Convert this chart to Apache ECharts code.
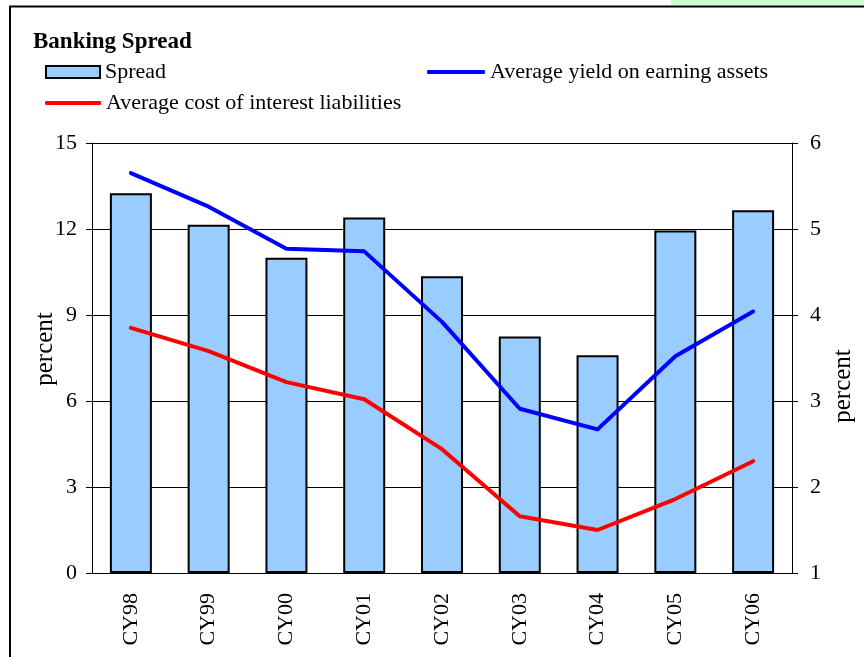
<!DOCTYPE html>
<html>
<head>
<meta charset="utf-8">
<script src="https://cdn.jsdelivr.net/npm/echarts@6/dist/echarts.min.js"></script>
<style>
  html, body { margin: 0; padding: 0; background: #fff; }
  #chart { width: 864px; height: 657px; }
</style>
</head>
<body>
<div id="chart"></div>
<script>
// 数据
const years = ['CY98', 'CY99', 'CY00', 'CY01', 'CY02', 'CY03', 'CY04', 'CY05', 'CY06'];
const spread = [13.25, 12.15, 11.0, 12.4, 10.35, 8.25, 7.6, 11.95, 12.65];
const yieldAssets = [5.65, 5.26, 4.77, 4.74, 3.92, 2.91, 2.67, 3.52, 4.04];
const costLiabilities = [3.85, 3.58, 3.22, 3.02, 2.44, 1.66, 1.50, 1.86, 2.30];
const leftTicks = { min: 0, max: 15, interval: 3 };
const rightTicks = { min: 1, max: 6, interval: 1 };

const serif = '"Liberation Serif", "Times New Roman", serif';

const chart = echarts.init(document.getElementById('chart'));

const axisCommon = {
    axisLine: { show: true, lineStyle: { color: '#000', width: 1 } },
    axisTick: { show: true, length: 6, lineStyle: { color: '#000' } },
    axisLabel: { color: '#000', fontSize: 22, fontFamily: serif }
};

const legendText = { fontFamily: serif, fontSize: 22, color: '#000' };

const option = {
    animation: false,
    backgroundColor: '#fff',
    title: {
        text: 'Banking Spread',
        left: 28,
        top: 26,
        textStyle: { fontFamily: serif, fontSize: 23, fontWeight: 'bold', color: '#000' }
    },
    legend: [
        {
            left: 40, top: 56,
            itemWidth: 54, itemHeight: 12, itemGap: 0,
            textStyle: legendText,
            data: [{ name: 'Spread', icon: 'rect' }]
        },
        {
            left: 422, top: 56,
            itemWidth: 58, itemHeight: 4, itemGap: 0,
            textStyle: legendText,
            data: [{ name: 'Average yield on earning assets', icon: 'roundRect' }]
        },
        {
            left: 40, top: 87,
            itemWidth: 56, itemHeight: 4, itemGap: 0,
            textStyle: legendText,
            data: [{ name: 'Average cost of interest liabilities', icon: 'roundRect' }]
        }
    ],
    grid: { left: 92, right: 72, top: 143, bottom: 84 },
    xAxis: {
        type: 'category',
        data: years,
        axisLine: { show: true, lineStyle: { color: '#000', width: 1 } },
        axisTick: { show: false },
        axisLabel: { rotate: 90, margin: 20, color: '#000', fontSize: 22, fontFamily: serif }
    },
    yAxis: [
        Object.assign({
            type: 'value',
            min: leftTicks.min, max: leftTicks.max, interval: leftTicks.interval,
            position: 'left',
            splitLine: { show: true, lineStyle: { color: '#000', width: 1 } }
        }, axisCommon, { axisLabel: Object.assign({}, axisCommon.axisLabel, { margin: 15 }) }),
        Object.assign({
            type: 'value',
            min: rightTicks.min, max: rightTicks.max, interval: rightTicks.interval,
            position: 'right',
            splitLine: { show: false }
        }, axisCommon, { axisLabel: Object.assign({}, axisCommon.axisLabel, { margin: 18 }) })
    ],
    series: [
        {
            name: 'Spread',
            type: 'bar',
            yAxisIndex: 0,
            barWidth: '54%',
            data: spread,
            itemStyle: { color: '#99CCFF', borderColor: '#000', borderWidth: 2 }
        },
        {
            name: 'Average yield on earning assets',
            type: 'line',
            yAxisIndex: 1,
            data: yieldAssets,
            symbol: 'none',
            z: 5,
            lineStyle: { color: '#0000FF', width: 4, join: 'round', cap: 'round' },
            itemStyle: { color: '#0000FF' }
        },
        {
            name: 'Average cost of interest liabilities',
            type: 'line',
            yAxisIndex: 1,
            data: costLiabilities,
            symbol: 'none',
            z: 5,
            lineStyle: { color: '#FF0000', width: 4, join: 'round', cap: 'round' },
            itemStyle: { color: '#FF0000' }
        }
    ],
    graphic: [
        // 外框与右上角色块
        { type: 'rect', shape: { x: 671, y: 0, width: 200, height: 5 }, style: { fill: '#CCFFCC' }, silent: true },
        { type: 'rect', shape: { x: 10, y: 6.5, width: 900, height: 700 }, style: { fill: null, stroke: '#000', lineWidth: 2 }, silent: true },
        // 坐标轴名称
        {
            type: 'text', x: 45, y: 349, rotation: Math.PI / 2,
            style: { text: 'percent', font: '25px ' + serif, fill: '#000', align: 'center', verticalAlign: 'middle' }
        },
        {
            type: 'text', x: 843, y: 386, rotation: Math.PI / 2,
            style: { text: 'percent', font: '25px ' + serif, fill: '#000', align: 'center', verticalAlign: 'middle' }
        }
    ]
};

chart.setOption(option);
window.addEventListener('resize', () => chart.resize());
</script>
</body>
</html>
